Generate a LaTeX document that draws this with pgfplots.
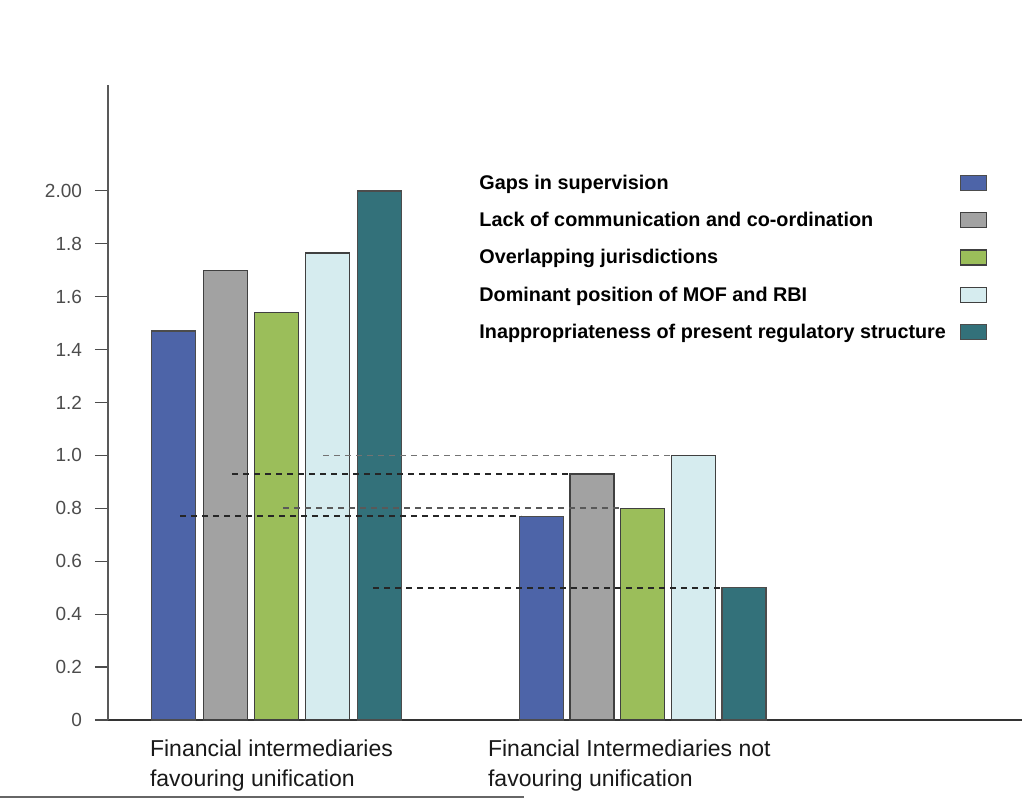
\documentclass[border=0pt]{standalone}
\usepackage{fontspec}
\setmainfont{Liberation Sans}
\usepackage{pgfplots}
\pgfplotsset{compat=1.18}
\definecolor{cblue}{HTML}{4D64A8}
\definecolor{cgrey}{HTML}{A2A2A2}
\definecolor{cgreen}{HTML}{9BBE5A}
\definecolor{clight}{HTML}{D6ECEF}
\definecolor{cteal}{HTML}{33717A}
\begin{document}
\begin{tikzpicture}
\path[use as bounding box] (-54pt,-40pt) rectangle (457pt,360pt);
\begin{axis}[
  at={(0pt,0pt)}, anchor=south west, scale only axis,
  width=457pt, height=317.5pt,
  xmin=108, xmax=1022, ymin=0, ymax=2.4,
  axis x line=bottom, axis y line=left, axis line style={-},
  x axis line style={draw=black!80, line width=0.8pt},
  y axis line style={draw=black!65, line width=0.8pt},
  ytick={0,0.2,0.4,0.6,0.8,1.0,1.2,1.4,1.6,1.8,2.0},
  yticklabels={0,0.2,0.4,0.6,0.8,1.0,1.2,1.4,1.6,1.8,2.00},
  yticklabel style={font=\fontsize{9.5}{11}\selectfont, text=black!70, xshift=-3pt},
  ytick style={draw=black!70, line width=0.6pt},
  tick align=outside, major tick length=6.5pt,
  xtick={143,481},
  xticklabels={{Financial intermediaries\\favouring unification},{Financial Intermediaries not\\favouring unification}},
  xticklabel style={anchor=north west, align=left, yshift=0pt, font=\fontsize{11.5}{15}\selectfont, text=black!90},
  xtick style={draw=none},
  legend style={at={(0.395,0.872)}, anchor=north west, draw=none, fill=none,
     font=\bfseries\fontsize{9.9}{10}\selectfont, row sep=6pt, column sep=5pt},
  legend cell align=left,
  legend plot pos=right,
  legend image code/.code={\draw[#1] (0pt,-3.5pt) rectangle (13pt,4pt);},
]
\addplot[ybar, bar width=44, bar shift=0pt, fill=cblue, draw=black!70, line width=0.7pt]
  coordinates {(173.5,1.47) (541.5,0.77)};
\addplot[ybar, bar width=44, bar shift=0pt, fill=cgrey, draw=black!75, line width=0.7pt]
  coordinates {(225.5,1.70) (592,0.93)};
\addplot[ybar, bar width=44, bar shift=0pt, fill=cgreen, draw=black!75, line width=0.7pt]
  coordinates {(276.5,1.54) (642.5,0.80)};
\addplot[ybar, bar width=44, bar shift=0pt, fill=clight, draw=black!75, line width=0.7pt]
  coordinates {(327.5,1.765) (693.5,1.00)};
\addplot[ybar, bar width=44, bar shift=0pt, fill=cteal, draw=black!70, line width=0.7pt]
  coordinates {(379.5,2.00) (744,0.50)};
\legend{Gaps in supervision, Lack of communication and co-ordination, Overlapping jurisdictions, Dominant position of MOF and RBI, Inappropriateness of present regulatory structure}
\addplot[forget plot, black!55, dash pattern=on 3pt off 2.5pt, line width=0.9pt]
  coordinates {(323,1.00) (672,1.00)};
\addplot[forget plot, black!85, dash pattern=on 3pt off 2.5pt, line width=0.9pt]
  coordinates {(232,0.93) (571,0.93)};
\addplot[forget plot, black!65, dash pattern=on 3pt off 2.5pt, line width=0.9pt]
  coordinates {(283,0.80) (621,0.80)};
\addplot[forget plot, black!85, dash pattern=on 3pt off 2.5pt, line width=0.9pt]
  coordinates {(180,0.77) (521,0.77)};
\addplot[forget plot, black!85, dash pattern=on 3pt off 2.5pt, line width=0.9pt]
  coordinates {(373,0.50) (722,0.50)};
\end{axis}
\draw[black!60, line width=0.6pt] (-54pt,-38.5pt) -- (208pt,-38.5pt);
\end{tikzpicture}
\end{document}
